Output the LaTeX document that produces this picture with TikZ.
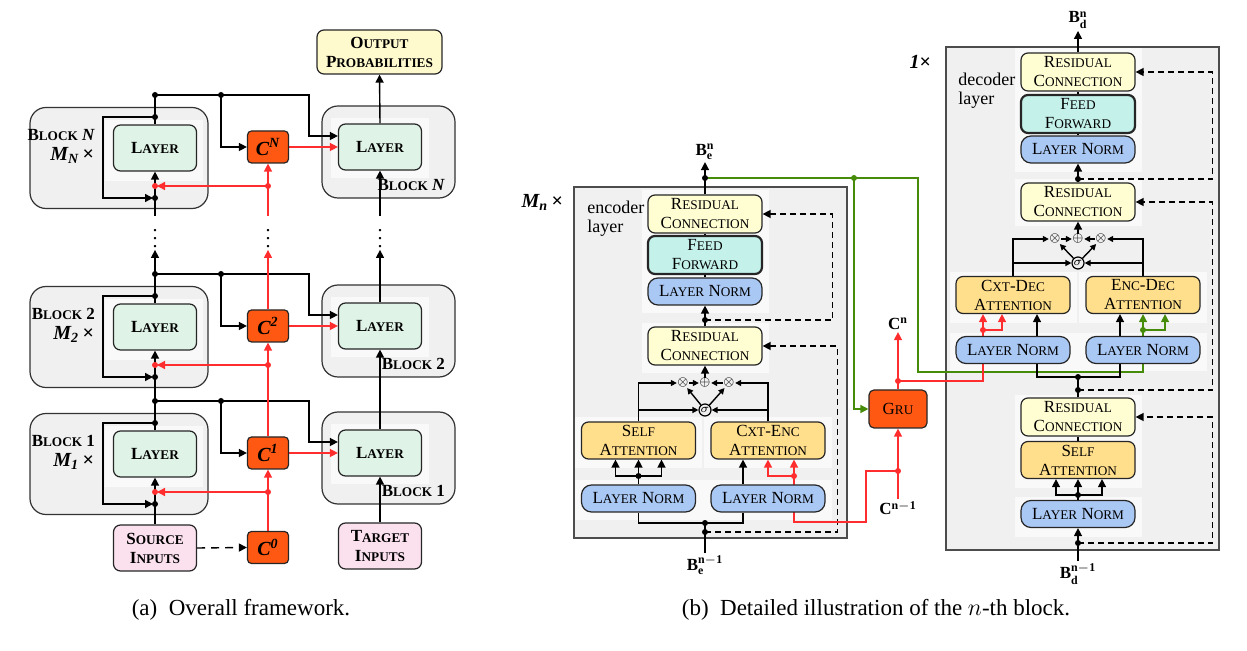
\documentclass[tikz,border=0pt]{standalone}
\usepackage{fontspec}
\setmainfont{Liberation Serif}
\usepackage{graphicx}
\usetikzlibrary{arrows.meta, calc, positioning}
\definecolor{laygreen}{RGB}{224,243,231}
\definecolor{outyellow}{RGB}{255,250,205}
\definecolor{inpink}{RGB}{251,225,238}
\definecolor{corange}{RGB}{255,88,18}
\definecolor{blockgray}{RGB}{240,240,240}
\definecolor{resyellow}{RGB}{255,253,210}
\definecolor{ffcyan}{RGB}{196,242,235}
\definecolor{lnblue}{RGB}{170,200,244}
\definecolor{attorange}{RGB}{255,222,140}
\definecolor{lred}{RGB}{255,45,45}
\definecolor{lgreen}{RGB}{70,140,10}
\newcommand\fsc[2]{#1\scalebox{0.78}{#2}}
\pgfdeclarelayer{back}
\pgfdeclarelayer{edges}
\pgfsetlayers{back,edges,main}
\tikzstyle{box} = [rectangle, rounded corners=3.5pt, draw=black!85, line width=0.6pt, inner sep=0.5pt, align=center]
\tikzstyle{layer} = [box, fill=laygreen, minimum width=41.5pt, minimum height=23pt, font=\bfseries\fontsize{8.5}{9.5}\selectfont]
\tikzstyle{inbox} = [layer, fill=inpink]
\tikzstyle{outbox} = [layer, fill=outyellow, minimum width=62.5pt, minimum height=22pt]
\tikzstyle{cbox} = [box, rounded corners=2pt, fill=corange, minimum width=20.5pt, minimum height=16pt, font=\bfseries\itshape\fontsize{10}{11}\selectfont]
\tikzstyle{block} = [rectangle, rounded corners=8pt, draw=black!80, line width=0.6pt, fill=blockgray]
\tikzstyle{stackbox} = [rectangle, draw=black!70, line width=0.7pt, fill=blockgray]
\tikzstyle{resbox} = [box, fill=resyellow, minimum width=57pt, minimum height=19pt, font=\fontsize{8.5}{9.5}\selectfont]
\tikzstyle{ffbox} = [resbox, fill=ffcyan, line width=1.1pt]
\tikzstyle{lnbox} = [resbox, fill=lnblue, minimum height=13.5pt, rounded corners=5pt]
\tikzstyle{attbox} = [resbox, fill=attorange, minimum height=18.5pt]
\tikzstyle{grubox} = [resbox, fill=corange, minimum width=29pt, rounded corners=2.5pt]
\tikzstyle{gate} = [inner sep=0pt, font=\fontsize{6.5}{6.5}\selectfont]
\tikzstyle{sig} = [circle, draw, line width=0.6pt, inner sep=0pt, minimum size=6pt, font=\bfseries\fontsize{6}{6}\selectfont]
\tikzstyle{lab} = [inner sep=1pt, font=\fontsize{8.5}{9}\selectfont]
\tikzstyle{wire} = [line width=0.7pt]
\tikzstyle{arrow} = [wire, -{Triangle[length=4pt,width=4pt]}]
\tikzstyle{garrow} = [wire, -{Triangle[length=3pt,width=3pt]}]
\tikzstyle{dasharrow} = [arrow, dash pattern=on 3pt off 2pt]
\tikzstyle{redarrow} = [arrow, draw=lred]
\tikzstyle{redwire} = [wire, draw=lred]
\tikzstyle{greenwire} = [wire, draw=lgreen]
\tikzstyle{greenarrow} = [arrow, draw=lgreen]
\tikzstyle{panel} = [fill=white, fill opacity=0.6]
\begin{document}
\begin{tikzpicture}[x=0.5pt, y=-0.5pt]
\useasboundingbox (0,0) rectangle (1247,651);

% (a) overall framework
\foreach \yy/\nm/\lab in {148/N/\textit{N}, 327/2/2, 454/1/1}{
	\node[layer] (layL\nm) at (155,\yy) {\fsc{L}{AYER}};
	\node[layer] (layR\nm) at (380,\yy-1) {\fsc{L}{AYER}};
	\node[cbox] (c\nm) at (268,\yy-1) {C\textsuperscript{\nm}};
	\node[anchor=east, font=\bfseries\fontsize{8.5}{9.5}\selectfont] (bkL\nm) at (102,\yy-13) {\fsc{B}{LOCK} \lab};
	\node[anchor=east, font=\bfseries\itshape\fontsize{10}{11}\selectfont] (mL\nm) at (101,\yy+7) {M\textsubscript{\nm}\,\textup{×}};
	\node[anchor=east, font=\bfseries\fontsize{8.5}{9.5}\selectfont] (bkR\nm) at (452,\yy+37) {\fsc{B}{LOCK} \lab};
	\coordinate (topL\nm) at (155,\yy-31);
	\coordinate (botL\nm) at (155,\yy+50);
	\coordinate (redL\nm) at (155,\yy+38);
	\coordinate (redC\nm) at (268,\yy+38);
	\coordinate (jL\nm) at (155,\yy-53);
	\coordinate (jC\nm) at (221,\yy-53);
	\coordinate (jR\nm) at (309,\yy-53);
	\begin{pgfonlayer}{back}
		\node[block, minimum width=89pt, minimum height=50.5pt] (blkL\nm) at (119,\yy+10) {};
		\node[block, minimum width=66.5pt, minimum height=46pt] (blkR\nm) at (388.5,\yy+4) {};
		\fill[panel] (105,\yy-28) rectangle (203,\yy+33);
		\fill[panel] (331,\yy-30) rectangle (429,\yy+30);
	\end{pgfonlayer}
	\begin{pgfonlayer}{edges}
		\draw[wire] (layL\nm.north) -- (jL\nm);
		\draw[arrow, shorten >=1pt] (topL\nm) -- ++(-26pt,0) |- (botL\nm);
		\draw[arrow] (botL\nm) -- (layL\nm.south);
		\draw[redarrow, shorten >=1pt] (redC\nm) -- (redL\nm);
		\draw[arrow] (jL\nm) -- (jR\nm) |- ([yshift=5.5pt]layR\nm.west);
		\draw[arrow] (jC\nm) |- (c\nm.west);
		\draw[redarrow] (c\nm.east) -- (c\nm.east -| layR\nm.west);
		\foreach \p in {topL\nm, botL\nm, jL\nm, jC\nm} \fill (\p) circle (1.5pt);
		\foreach \p in {redL\nm, redC\nm} \fill[lred] (\p) circle (1.5pt);
	\end{pgfonlayer}
}
\node[outbox] (outp) at (379.5,52) {\fsc{O}{UTPUT}\\\fsc{P}{ROBABILITIES}};
\node[inbox] (src) at (155,548) {\fsc{S}{OURCE}\\\fsc{I}{NPUTS}};
\node[inbox] (tgt) at (380,546) {\fsc{T}{ARGET}\\\fsc{I}{NPUTS}};
\node[cbox] (c0) at (268,547.5) {C\textsuperscript{0}};
\node[inner sep=0pt, minimum height=16.5pt] (dotsL) at (155,233) {$\vdots$};
\node[inner sep=0pt, minimum height=16.5pt] (dotsC) at (268,233) {$\vdots$};
\node[inner sep=0pt, minimum height=16.5pt] (dotsR) at (380,233) {$\vdots$};
\node[font=\fontsize{11.5}{13}\selectfont] (capA) at (241,610) {(a)\enspace Overall framework.};

\begin{pgfonlayer}{edges}
	\draw[wire] (src.north) -- (botL1);
	\draw[wire] (jL1) -- (botL2);
	\draw[arrow] (jL2) -- (dotsL.south);
	\draw[wire] (dotsL.north) -- (botLN);
	\draw[redarrow] (c0.north) -- (c1.south);
	\draw[redarrow] (c1.north) -- (c2.south);
	\draw[redarrow] (c2.north) -- (dotsC.south);
	\draw[redarrow] (dotsC.north) -- (cN.south);
	\draw[arrow] (tgt.north) -- (layR1.south);
	\draw[arrow] (layR1.north) -- (layR2.south);
	\draw[arrow] (layR2.north) -- (dotsR.south);
	\draw[arrow] (dotsR.north) -- (layRN.south);
	\draw[arrow] (layRN.north) -- (outp.south);
	\draw[arrow, dash pattern=on 4pt off 3pt] (src.east) -- (c0.west);
\end{pgfonlayer}

% (b) n-th block: encoder
\node[resbox] (encRes2) at (705,214) {\fsc{R}{ESIDUAL}\\\fsc{C}{ONNECTION}};
\node[ffbox] (encFF) at (705,255) {\fsc{F}{EED}\\\fsc{F}{ORWARD}};
\node[lnbox] (encLN3) at (705,291.5) {\fsc{L}{AYER} \fsc{N}{ORM}};
\node[resbox] (encRes1) at (705,346) {\fsc{R}{ESIDUAL}\\\fsc{C}{ONNECTION}};
\node[attbox] (encSA) at (638.5,440.5) {\fsc{S}{ELF}\\\fsc{A}{TTENTION}};
\node[attbox] (encCA) at (768,440.5) {\fsc{C}{XT}-\fsc{E}{NC}\\\fsc{A}{TTENTION}};
\node[lnbox] (encLN1) at (638.5,498.5) {\fsc{L}{AYER} \fsc{N}{ORM}};
\node[lnbox] (encLN2) at (768,498.5) {\fsc{L}{AYER} \fsc{N}{ORM}};
\node[gate] (encM1) at (683,383) {$\otimes$};
\node[gate] (encP) at (705,383) {$\oplus$};
\node[gate] (encM2) at (729,383) {$\otimes$};
\node[sig] (encSig) at (705,410) {$\sigma$};
\node[lab] (encOut) at (705,152) {$\mathbf{B}^{\mathbf{n}}_{\mathbf{e}}$};
\node[lab] (encIn) at (705,565) {$\mathbf{B}^{\mathbf{n-1}}_{\mathbf{e}}$};
\node[anchor=east, font=\bfseries\itshape\fontsize{10}{11}\selectfont] (mEnc) at (570,202) {M\textsubscript{n}\,\textup{×}};
\node[anchor=north west, align=left, inner sep=0pt, font=\fontsize{9}{9.5}\selectfont] (encTxt) at (587,201) {encoder\\layer};
\coordinate (encD4) at (705,178);
\coordinate (encD3) at (705,320);
\coordinate (encD2) at (705,523);
\coordinate (encD1) at (705,532);
\coordinate (dotSA) at (638.5,476);
\coordinate (redE) at (794,476);

% GRU
\node[grubox] (gru) at (898,409) {\fsc{G}{RU}};
\node[lab] (cnOut) at (898,324) {$\mathbf{C}^{\mathbf{n}}$};
\node[lab] (cnIn) at (898,508) {$\mathbf{C}^{\mathbf{n-1}}$};
\coordinate (greenD) at (854,178);
\coordinate (gBendA) at (918,178);
\coordinate (gBendB) at (918,372);
\coordinate (redG1) at (898,381);
\coordinate (redG2) at (898,471);
\coordinate (rBend) at (866,522);

% decoder
\node[resbox] (decRes3) at (1078,72) {\fsc{R}{ESIDUAL}\\\fsc{C}{ONNECTION}};
\node[ffbox] (decFF) at (1078,114) {\fsc{F}{EED}\\\fsc{F}{ORWARD}};
\node[lnbox] (decLN3) at (1078,149.5) {\fsc{L}{AYER} \fsc{N}{ORM}};
\node[resbox] (decRes2) at (1078,202) {\fsc{R}{ESIDUAL}\\\fsc{C}{ONNECTION}};
\node[gate] (decM1) at (1055,239) {$\otimes$};
\node[gate] (decP) at (1078,239) {$\oplus$};
\node[gate] (decM2) at (1101,239) {$\otimes$};
\node[sig] (decSig) at (1078,263) {$\sigma$};
\node[attbox] (decCA) at (1013,295) {\fsc{C}{XT}-\fsc{D}{EC}\\\fsc{A}{TTENTION}};
\node[attbox] (decEA) at (1143,295) {\fsc{E}{NC}-\fsc{D}{EC}\\\fsc{A}{TTENTION}};
\node[lnbox] (decLN1) at (1013,350) {\fsc{L}{AYER} \fsc{N}{ORM}};
\node[lnbox] (decLN2) at (1143,350) {\fsc{L}{AYER} \fsc{N}{ORM}};
\node[resbox] (decRes1) at (1078,417) {\fsc{R}{ESIDUAL}\\\fsc{C}{ONNECTION}};
\node[attbox] (decSA) at (1078,460) {\fsc{S}{ELF}\\\fsc{A}{TTENTION}};
\node[lnbox] (decLN0) at (1078,514) {\fsc{L}{AYER} \fsc{N}{ORM}};
\node[lab] (decOut) at (1078,20) {$\mathbf{B}^{\mathbf{n}}_{\mathbf{d}}$};
\node[lab] (decIn) at (1078,574) {$\mathbf{B}^{\mathbf{n-1}}_{\mathbf{d}}$};
\node[anchor=east, font=\bfseries\itshape\fontsize{10}{11}\selectfont] (mDec) at (938,62) {1\textup{×}};
\node[anchor=north west, align=left, inner sep=0pt, font=\fontsize{9}{9.5}\selectfont] (decTxt) at (958,73) {decoder\\layer};
\coordinate (decD5) at (1078,179);
\coordinate (decD4) at (1078,377);
\coordinate (decD3) at (1078,390);
\coordinate (decD2) at (1078,495);
\coordinate (decD1) at (1078,543);
\coordinate (greenE) at (1143,330);
\coordinate (redD) at (983,330);
\node[font=\fontsize{11.5}{13}\selectfont] (capB) at (876,610) {(b)\enspace Detailed illustration of the $n$-th block.};

\begin{pgfonlayer}{back}
	\node[stackbox, minimum width=136.5pt, minimum height=175.5pt] (encBox) at (710.5,362.5) {};
	\node[stackbox, minimum width=136.5pt, minimum height=251.5pt] (decBox) at (1082.5,298.5) {};
	\fill[panel] (642,190) rectangle (769,313);
	\fill[panel] (642,323) rectangle (769,373);
	\fill[panel] (575,417) rectangle (702,468);
	\fill[panel] (704,417) rectangle (832,468);
	\fill[panel] (575,480) rectangle (832,520);
	\fill[panel] (1015,48) rectangle (1142,172);
	\fill[panel] (1015,179) rectangle (1142,226);
	\fill[panel] (950,272) rectangle (1077,323);
	\fill[panel] (1079,272) rectangle (1207,323);
	\fill[panel] (950,333) rectangle (1207,371);
	\fill[panel] (1015,395) rectangle (1142,488);
	\fill[panel] (1015,497) rectangle (1142,537);
\end{pgfonlayer}

\begin{pgfonlayer}{edges}
	% encoder
	\draw[wire] (encIn.north) -- (encD2);
	\draw[wire] (encLN1.south) |- (encD2) -| ([xshift=-12.5pt]encLN2.south);
	\draw[dasharrow] (encD1) -| ([xshift=37.5pt]encRes1.east) -- (encRes1.east);
	\draw[wire] (encLN1.north) -- (dotSA);
	\draw[arrow] (dotSA) -- (encSA.south);
	\draw[arrow] (dotSA) -| ([xshift=-11.5pt]encSA.south);
	\draw[arrow] (dotSA) -| ([xshift=11.5pt]encSA.south);
	\draw[arrow] ([xshift=-12.5pt]encLN2.north) -- ([xshift=-12.5pt]encCA.south);
	\draw[redarrow] (redE) -- ([xshift=13pt]encCA.south);
	\draw[redarrow] (redE) -| (encCA.south);
	\draw[garrow] (encSA.north) |- (encM1.west);
	\draw[garrow] (encSA.north |- encSig) -- (encSig.west);
	\draw[garrow] (encCA.north) |- (encM2.east);
	\draw[garrow] (encCA.north |- encSig) -- (encSig.east);
	\draw[garrow] (encM1) -- (encP);
	\draw[garrow] (encM2) -- (encP);
	\draw[garrow] (encSig) -- (encM1);
	\draw[garrow] (encSig) -- (encM2);
	\draw[arrow] (encP) -- (encRes1.south);
	\draw[wire] (encRes1.north) -- (encD3);
	\draw[arrow] (encD3) -- (encLN3.south);
	\draw[wire] (encLN3.north) -- (encFF.south);
	\draw[wire] (encFF.north) -- (encRes2.south);
	\draw[dasharrow] (encD3) -| ([xshift=35pt]encRes2.east) -- (encRes2.east);
	\draw[arrow] (encRes2.north) -- (encOut.south);
	% links to GRU and decoder
	\draw[greenwire] (encD4) -- (greenD) -- (gBendA) -- (gBendB) -| (greenE);
	\draw[greenarrow] (greenD) |- (gru.west);
	\draw[greenarrow] (greenE) -- (decEA.south);
	\draw[greenarrow] (greenE) -| ([xshift=11pt]decEA.south);
	\draw[redarrow] (gru.north) -- (cnOut.south);
	\draw[redwire] (redG1) -| (redD);
	\draw[redarrow] (redD) -- ([xshift=-15pt]decCA.south);
	\draw[redarrow] (redD) -| ([xshift=-5.5pt]decCA.south);
	\draw[redarrow] (cnIn.north) -- (gru.south);
	\draw[redwire] (redG2) -| (rBend) -| (redE);
	% decoder
	\draw[wire] (decIn.north) -- (decD1);
	\draw[arrow] (decD1) -- (decLN0.south);
	\draw[dasharrow] (decD1) -| ([xshift=38.5pt]decRes1.east) -- (decRes1.east);
	\draw[wire] (decLN0.north) -- (decD2);
	\draw[arrow] (decD2) -- (decSA.south);
	\draw[arrow] (decD2) -| ([xshift=-11pt]decSA.south);
	\draw[arrow] (decD2) -| ([xshift=12pt]decSA.south);
	\draw[wire] (decSA.north) -- (decRes1.south);
	\draw[wire] (decRes1.north) -- (decD4);
	\draw[wire] ([xshift=12pt]decLN1.south) |- (decD4) -| ([xshift=-11.5pt]decLN2.south);
	\draw[arrow] ([xshift=12pt]decLN1.north) -- ([xshift=12pt]decCA.south);
	\draw[arrow] ([xshift=-11.5pt]decLN2.north) -- ([xshift=-11.5pt]decEA.south);
	\draw[dasharrow] (decD3) -| ([xshift=38.5pt]decRes2.east) -- (decRes2.east);
	\draw[garrow] (decCA.north) |- (decM1.west);
	\draw[garrow] (decCA.north |- decSig) -- (decSig.west);
	\draw[garrow] (decEA.north) |- (decM2.east);
	\draw[garrow] (decEA.north |- decSig) -- (decSig.east);
	\draw[garrow] (decM1) -- (decP);
	\draw[garrow] (decM2) -- (decP);
	\draw[garrow] (decSig) -- (decM1);
	\draw[garrow] (decSig) -- (decM2);
	\draw[arrow] (decP) -- (decRes2.south);
	\draw[wire] (decRes2.north) -- (decD5);
	\draw[arrow] (decD5) -- (decLN3.south);
	\draw[wire] (decLN3.north) -- (decFF.south);
	\draw[wire] (decFF.north) -- (decRes3.south);
	\draw[dasharrow] (decD5) -| ([xshift=38.5pt]decRes3.east) -- (decRes3.east);
	\draw[arrow] (decRes3.north) -- (decOut.south);
	% junction dots
	\foreach \p in {encD4, encD3, encD2, encD1, dotSA, decD5, decD4, decD3, decD2, decD1} \fill (\p) circle (1.5pt);
	\foreach \p in {redE, redD, redG1, redG2} \fill[lred] (\p) circle (1.5pt);
	\foreach \p in {greenD, greenE} \fill[lgreen] (\p) circle (1.5pt);
\end{pgfonlayer}
\end{tikzpicture}
\end{document}
